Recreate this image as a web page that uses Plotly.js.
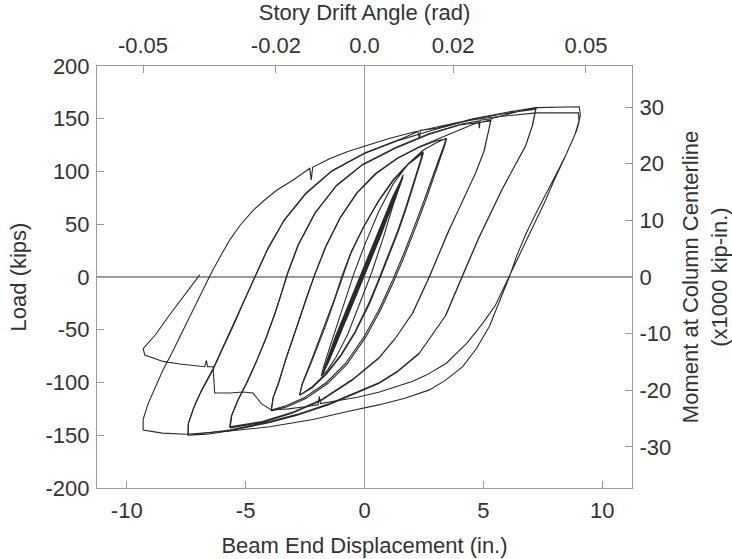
<!DOCTYPE html>
<html>
<head>
<meta charset="utf-8">
<script src="https://cdn.plot.ly/plotly-3.0.1.min.js"></script>
<style>html,body{margin:0;padding:0;background:#fff;}#chart{width:732px;height:559px;}</style>
</head>
<body>
<div id="chart"></div>
<script>
// Lever arm between beam end and column centerline (in.), links the secondary axes
const L = 186.3;

// Axis tick values and labels
const xTicks = [-10, -5, 0, 5, 10];
const driftTicks = [-0.05, -0.02, 0, 0.02, 0.05];
const driftLabels = ['-0.05', '-0.02', '0.0', '0.02', '0.05'];
const loadTicks = [-200, -150, -100, -50, 0, 50, 100, 150, 200];
const momentTicks = [-30, -20, -10, 0, 10, 20, 30];

// Beam end displacement (in.) and load (kips)
// small elastic cycles
const elasticD = [-0.7,-0.35,0,0.35,0.7,0.35,0,-0.35,-0.7,-0.98,-0.5,0,0.5,0.95,0.5,0,-0.5,-0.98,-1.38,-0.7,0,0.7,1.3,0.7,0,-0.7,-1.38,-1.75,-1.2,-0.6,0,0.6,1.2,1.61,1.2,0.6,0,-0.6,-1.2,-1.75,
  -1.2,-0.6,0,0.6,1.2,1.58,1.2,0.6,0,-0.6,-1.2,-1.72];
const elasticP = [-34,-14,7,26,44,24,4,-17,-34,-49,-20,8,35,58,31,3,-24,-49,-71,-32,8,46,77,41,3,-36,-71,-91,-58,-25,8,41,74,95,70,37,3,-30,-63,-91,
  -56,-23,10,43,76,93,72,39,5,-28,-61,-89];

// 0.01 rad cycle
const lensD = [-1.75,-1.82,-1.5,-1.0,-0.5,0,0.5,1.0,1.35,1.63,1.5,1.2,0.8,0.3,-0.2,-0.7,-1.2,-1.55,-1.82];
const lensP = [-91,-94,-80,-52,-24,4,32,60,80,97,88,68,38,4,-26,-54,-76,-88,-94];

// 0.015 rad cycles
const c015D = [-1.82,-1.72,-1.45,-1.1,-0.75,-0.45,0,0.6,1.2,1.8,2.2,2.45,
  2.36,2.1,1.75,1.4,1.0,0.6,0.2,-0.4,-1.0,-1.6,-2.2,-2.73,
  -2.62,-2.2,-1.65,-1.27,-0.98,-0.58,-0.05,0.6,1.2,1.8,2.25,2.48,
  2.38,2.12,1.77,1.42,1.02,0.62,0.22,-0.4,-1.0,-1.6,-2.2,-2.73];
const c015P = [-94,-85,-66,-42,-18,3,30,62,88,106,114,119,
  111,92,67,44,20,-2,-24,-52,-74,-91,-104,-112,
  -102,-79,-47,-22,-3,22,47,72,91,106,114,118,
  110,91,66,43,19,-3,-25,-53,-75,-92,-105,-112];

// 0.02 rad cycles
const c02D = [-2.73,-2.62,-2.2,-1.65,-1.25,-0.96,-0.56,-0.05,0.58,1.2,1.82,2.45,3.0,3.43,
  3.36,3.1,2.87,2.5,2.1,1.65,1.2,0.63,0,-0.8,-1.6,-2.5,-3.3,-3.92,
  -3.85,-3.6,-3.32,-2.85,-2.45,-2.1,-1.65,-1.05,-0.35,0.45,1.35,2.3,3.0,3.45,
  3.38,3.12,2.9,2.55,2.15,1.7,1.25,0.68,0.05,-0.75,-1.55,-2.45,-3.25,-3.92];
const c02P = [-112,-101,-77,-45,-20,0,24,47,72,92,107,120,127,131.5,
  126,110,95,72,48,22,-2,-30,-56,-82,-100,-114,-122,-126,
  -115,-100,-79,-47,-20,2,28,55,79,98,112,123,129,131,
  125,108,93,71,47,21,-3,-31,-57,-83,-101,-115,-123,-127];

// 0.03 rad cycles
const c03D = [-3.92,-3.84,-3.6,-3.3,-2.82,-2.42,-2.06,-1.6,-1.0,-0.3,0.5,1.42,2.35,3.1,3.9,4.6,5.32,
  5.25,5.04,4.7,4.41,3.97,3.57,3.1,2.73,2.03,1.3,0.63,-0.5,-1.8,-3.0,-4.3,-5.67,
  -5.6,-5.35,-4.95,-4.55,-4.15,-3.75,-3.45,-3.25,-2.8,-2.1,-1.2,-0.1,1.3,2.7,4.0,5.3,
  5.23,5.02,4.68,4.38,3.94,3.54,3.07,2.7,2.0,1.27,0.6,-0.52,-1.82,-3.02,-4.32,-5.65];
const c03P = [-127,-114,-99,-77,-45,-18,4,30,57,80,98,113,124,131,139,145,149,
  141,120,100,86,64,45,20,0,-34,-58,-76,-97,-116,-128,-137,-142,
  -132,-118,-100,-80,-58,-33,-12,3,30,60,86,106,122,135,144,148,
  140,119,99,85,63,44,19,-1,-35,-59,-77,-98,-117,-129,-138,-143];

// 0.04 rad cycles
const c04D = [-5.65,-5.58,-5.33,-4.92,-4.52,-4.12,-3.72,-3.42,-3.22,-2.77,-2.07,-1.17,-0.07,1.33,2.73,4.1,4.8,4.83,4.86,5.32,6.3,7.22,
  7.07,6.79,6.51,6.15,5.81,5.3,4.83,4.2,3.43,2.31,1.4,0.63,-0.5,-1.47,-2.8,-3.99,-5.67,-6.6,-7.42,
  -7.42,-7.2,-6.9,-6.37,-5.95,-5.53,-5.05,-4.6,-4.1,-3.4,-2.5,-1.4,0,1.5,3.0,4.5,5.9,7.2,
  7.05,6.77,6.49,6.12,5.78,5.27,4.8,4.17,3.4,2.28,1.37,0.6,-0.53,-1.5,-2.83,-4.02,-5.7,-6.62,-7.42];
const c04P = [-143,-131,-117,-99,-79,-57,-32,-11,4,31,61,87,107,123,136,145,148,141,148.5,150,156,160.5,
  144,125,113,98,84,60,38,5,-36,-72,-89,-100,-111,-120,-130,-137,-145,-148,-150,
  -140,-125,-110,-88,-67,-47,-22,0,25,53,78,100,117,130,140,149,155,159,
  143,124,112,97,83,59,37,4,-37,-73,-90,-101,-112,-121,-131,-138,-146,-149,-150];

// 0.05 rad cycles and the final excursion
const c05D = [-7.42,-7.4,-7.15,-6.85,-6.33,-5.9,-5.48,-5.0,-4.55,-4.05,-3.35,-2.45,-1.35,0.05,1.55,2.25,2.31,2.36,3.05,4.55,5.95,7.22,8.2,9.03,
  9.08,9.0,8.9,8.47,8.05,7.63,7.2,6.79,6.4,6.09,5.6,5.25,4.7,4.13,3.4,2.73,1.7,0.63,-0.8,-2.17,-3.99,-5.67,-7.49,-8.5,-9.31,
  -9.31,-9.1,-8.9,-8.47,-8.1,-7.77,-7.4,-7.07,-6.75,-6.44,-6.0,-5.67,-5.2,-4.69,-4.2,-3.71,-3.0,-2.3,-2.24,-2.18,-1.47,-0.7,0,1.0,2.0,3.0,4.0,5.0,6.0,7.22,8.1,9.0,
  9.02,8.85,8.4,8.0,7.6,7.2,6.8,6.4,6.0,5.5,4.97,4.3,3.43,2.6,2.0,1.3,0.63,-0.3,-1.0,-1.85,-1.9,-1.95,-2.5,-3.2,-3.92,
  -4.34,-4.55,-4.69,-5.11,-5.67,-6.3,-6.33,-6.37,-6.6,-6.65,-6.72,-7.2,-7.77,-8.47,-9.0,-9.24,-9.31,-8.8,-8.2,-7.6,-6.93];
const c05P = [-150,-138,-122,-107,-85,-64,-44,-19,3,28,55,80,101,118,131,138,131,139,141,150,156,160.5,161,161.4,
  153.6,145,137.7,115.6,97,79,60,41,20,0,-28,-47,-68,-85,-98,-107,-115,-121,-128,-135,-142,-146,-149,-148,-145,
  -135,-120,-110,-88,-72,-57,-40,-25,-10,4,22,35,50,63,73,82,92,103,92,104,112,119,124,131,137,142,147,150.5,153,155.6,155.6,155.6,
  148,135,112,93,72,53,34,15,-3,-27,-44,-63,-82,-93,-99,-104,-109,-114,-117,-120,-113,-121,-123,-125,-126,
  -120,-114,-110,-109,-110,-110,-98,-85,-85,-79,-85,-84,-82.5,-80,-76,-74,-68,-55,-36,-18,2];

const lineCol = '#2a2a2a';
const series = [
  [elasticD, elasticP, 1.8], [lensD, lensP, 1.1], [c015D, c015P, 1.1], [c02D, c02P, 1.1],
  [c03D, c03P, 1.1], [c04D, c04P, 1.1], [c05D, c05P, 1.1]
];
const traces = series.map(s => ({
  x: s[0], y: s[1], type: 'scatter', mode: 'lines', line: {color: lineCol, width: s[2]},
  hoverinfo: 'skip', showlegend: false
}));
// empty trace to bring in the secondary axes
traces.push({x: [], y: [], xaxis: 'x2', yaxis: 'y2', type: 'scatter', mode: 'lines', showlegend: false});

const xRange = [-11.25, 11.25];
const yRange = [-200, 200];
const axisCol = '#9a9a9a';
const tickFont = {family: 'Liberation Sans, Arial, sans-serif', size: 22, color: '#333'};
const titleFont = {family: 'Liberation Sans, Arial, sans-serif', size: 22, color: '#333'};
const common = {
  ticks: 'inside', ticklen: 7, tickwidth: 1, tickcolor: axisCol,
  showline: true, linecolor: axisCol, linewidth: 1, showgrid: false,
  tickfont: tickFont, automargin: false, fixedrange: true,
  ticklabelposition: 'outside'
};

const layout = {
  width: 732, height: 559,
  margin: {l: 97, r: 100, t: 66, b: 71, pad: 0},
  paper_bgcolor: '#fff', plot_bgcolor: '#fff',
  showlegend: false,
  xaxis: Object.assign({}, common, {
    range: xRange, tickvals: xTicks, ticktext: xTicks.map(String),
    zeroline: true, zerolinecolor: axisCol, zerolinewidth: 1.5,
    ticklabelstandoff: 3,
    title: {text: 'Beam End Displacement (in.)', font: titleFont, standoff: 15}
  }),
  xaxis2: Object.assign({}, common, {
    overlaying: 'x', side: 'top', anchor: 'y',
    range: [xRange[0] / L, xRange[1] / L], tickvals: driftTicks, ticktext: driftLabels,
    zeroline: false, ticklabelstandoff: 3,
    title: {text: 'Story Drift Angle (rad)', font: titleFont, standoff: 9}
  }),
  yaxis: Object.assign({}, common, {
    range: yRange, tickvals: loadTicks, ticktext: loadTicks.map(String),
    zeroline: true, zerolinecolor: axisCol, zerolinewidth: 1.5,
    ticklabelstandoff: 2,
    title: {text: 'Load (kips)', font: titleFont, standoff: 12}
  }),
  yaxis2: Object.assign({}, common, {
    overlaying: 'y', side: 'right', anchor: 'x',
    range: [yRange[0] * L / 1000, yRange[1] * L / 1000], tickvals: momentTicks, ticktext: momentTicks.map(String),
    zeroline: false, ticklabelstandoff: 2,
    title: {text: 'Moment at Column Centerline<br>(x1000 kip-in.)', font: titleFont, standoff: 17}
  })
};

Plotly.newPlot('chart', traces, layout, {displayModeBar: false, staticPlot: true});
</script>
</body>
</html>
